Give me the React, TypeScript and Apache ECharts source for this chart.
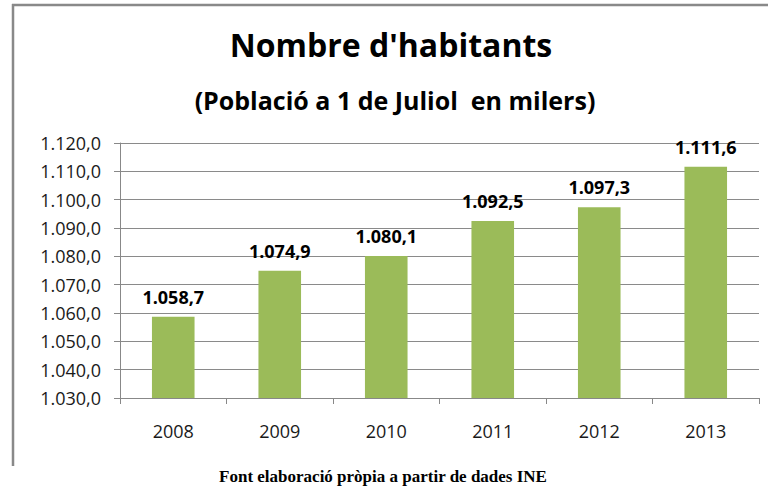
import React, { useEffect, useRef } from "react";
import * as echarts from "echarts";

const categories = ["2008", "2009", "2010", "2011", "2012", "2013"];
const population = [1058.7, 1074.9, 1080.1, 1092.5, 1097.3, 1111.6];
const titleText = "Nombre d'habitants";
const subtitleText = "(Població a 1 de Juliol  en milers)";
const footerText = "Font elaboració pròpia a partir de dades INE";

const fmt = (v: number) => {
  const [i, d] = v.toFixed(1).split(".");
  return i.replace(/\B(?=(\d{3})+(?!\d))/g, ".") + "," + d;
};

export default function App() {
  const ref = useRef<HTMLDivElement>(null);
  useEffect(() => {
    const chart = echarts.init(ref.current!, null, { renderer: "svg" });
    chart.setOption({
      animation: false,
      backgroundColor: "#ffffff",
      graphic: [
        { type: "line", shape: { x1: 12, y1: 5, x2: 768, y2: 5 }, style: { stroke: "#898989", lineWidth: 2.5 } },
        { type: "line", shape: { x1: 13, y1: 4, x2: 13, y2: 466 }, style: { stroke: "#898989", lineWidth: 2.5 } },
        {
          type: "text",
          x: 391,
          y: 44,
          style: {
            text: titleText,
            textAlign: "center",
            textVerticalAlign: "middle",
            font: "bold 32px 'Open Sans'",
            fill: "#000",
          },
        },
        {
          type: "text",
          x: 395,
          y: 100,
          style: {
            text: subtitleText,
            textAlign: "center",
            textVerticalAlign: "middle",
            font: "bold 25px 'Open Sans'",
            fill: "#000",
          },
        },
        {
          type: "text",
          x: 383,
          y: 476,
          style: {
            text: footerText,
            textAlign: "center",
            textVerticalAlign: "middle",
            font: "bold 17px 'Liberation Serif'",
            fill: "#000",
          },
        },
      ],
      grid: { left: 120, right: 9, top: 143, bottom: 90, containLabel: false },
      xAxis: {
        type: "category",
        data: categories,
        axisLine: { lineStyle: { color: "#888", width: 1 } },
        axisTick: { show: true, alignWithLabel: false, length: 6, lineStyle: { color: "#888" } },
        axisLabel: { fontFamily: "Open Sans", fontSize: 18, color: "#1a1a1a", margin: 24 },
      },
      yAxis: {
        type: "value",
        min: 1030,
        max: 1120,
        interval: 10,
        axisLine: { show: true, lineStyle: { color: "#888", width: 1 } },
        axisTick: { show: true, length: 6, inside: false, lineStyle: { color: "#888" } },
        splitLine: { lineStyle: { color: "#8a8a8a", width: 1 } },
        axisLabel: {
          fontFamily: "Open Sans",
          fontSize: 18,
          color: "#1a1a1a",
          margin: 19,
          formatter: (v: number) => fmt(v),
        },
      },
      series: [
        {
          type: "bar",
          data: population,
          barWidth: "40%",
          itemStyle: { color: "#9BBB59" },
          label: {
            show: true,
            position: "top",
            distance: 11,
            fontFamily: "Open Sans",
            fontWeight: "bold",
            fontSize: 18,
            color: "#000",
            formatter: (p: any) => fmt(p.value),
          },
        },
      ],
    });
    return () => chart.dispose();
  }, []);
  return <div ref={ref} style={{ position: "fixed", left: 0, top: 0, width: 768, height: 488 }} />;
}
